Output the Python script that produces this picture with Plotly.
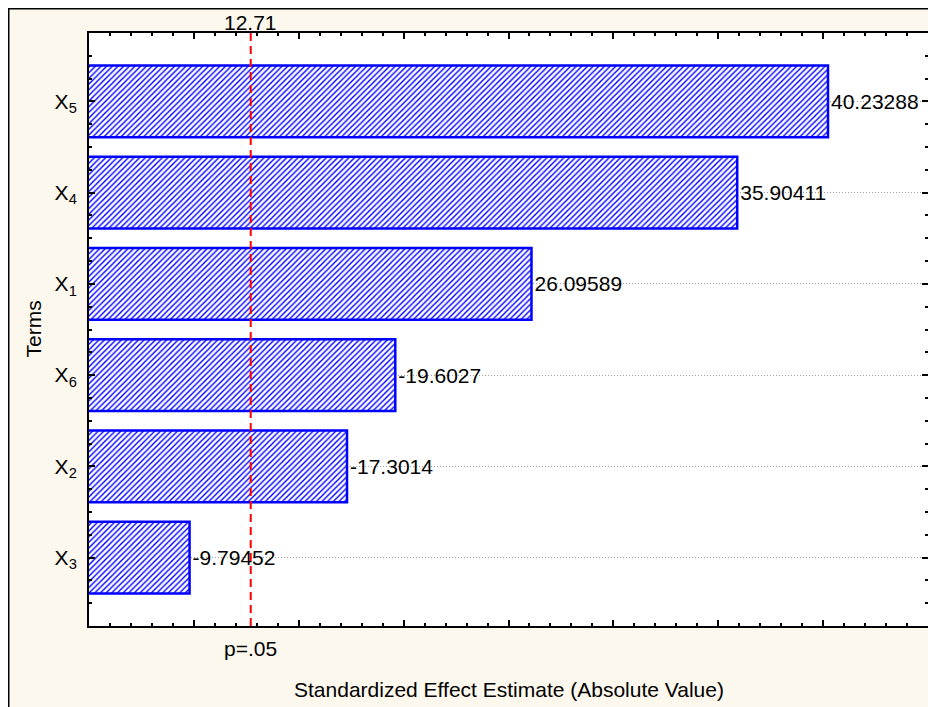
import plotly.graph_objects as go

# ---- data ----
terms = ["X<sub>5</sub>", "X<sub>4</sub>", "X<sub>1</sub>", "X<sub>6</sub>", "X<sub>2</sub>", "X<sub>3</sub>"]
effects = [40.23288, 35.90411, 26.09589, -19.6027, -17.3014, -9.79452]
p_crit = 12.71
x_title = "Standardized Effect Estimate (Absolute Value)"
y_title = "Terms"

n = len(terms)
ypos = [n - 1 - i for i in range(n)]
abs_eff = [abs(v) for v in effects]
labels = [str(v) for v in effects]

FONT = "Liberation Sans, Arial, sans-serif"
CREAM = "#FDF8EE"
BLUE = "#0000FF"
FS = 21

# The page body has an 8px margin, so figure px = page px - 8
OFF = 8
FW, FH = 936 - OFF, 707 - OFF
L, R, T, B = 89 - OFF, 928 - OFF, 33 - OFF, 626 - OFF
W, H = R - L, B - T


def px_x(px):  # page px -> paper
    return (px - OFF - L) / W


def px_y(py):  # page px -> paper
    return (B - (py - OFF)) / H


fig = go.Figure()
fig.add_trace(go.Bar(
    x=abs_eff, y=ypos, orientation="h", width=0.785,
    marker=dict(color=BLUE,
                line=dict(color=BLUE, width=2.5),
                pattern=dict(shape="/", fgcolor=BLUE, bgcolor="white",
                             size=4, solidity=0.35, fillmode="replace")),
    text=labels, textposition="outside", cliponaxis=False,
    textfont=dict(family=FONT, size=FS, color="black"),
    hoverinfo="skip", showlegend=False,
))

shapes = [
    # red critical-value line
    dict(type="line", xref="x", yref="paper", x0=p_crit, x1=p_crit, y0=0, y1=1,
         line=dict(color="#FF0000", width=2, dash="8px,5px"), layer="above"),
    # outer frame lines (left & top edges of the figure)
    dict(type="line", xref="paper", yref="paper", x0=px_x(8.5), x1=px_x(8.5),
         y0=-0.5, y1=px_y(7.5), line=dict(color="black", width=2), layer="below"),
    dict(type="line", xref="paper", yref="paper", x0=px_x(7.5), x1=1.3,
         y0=px_y(8.5), y1=px_y(8.5), line=dict(color="black", width=2), layer="below"),
]

annotations = [
    dict(text=f"{p_crit:.2f}", x=p_crit, xref="x", y=px_y(22.5), yref="paper",
         showarrow=False, xanchor="center", yanchor="middle",
         font=dict(family=FONT, size=FS, color="black")),
    dict(text="p=.05", x=p_crit, xref="x", y=px_y(648.5), yref="paper",
         showarrow=False, xanchor="center", yanchor="middle",
         font=dict(family=FONT, size=FS, color="black")),
    dict(text=x_title, x=0.5, xref="paper", y=px_y(689), yref="paper",
         showarrow=False, xanchor="center", yanchor="middle",
         font=dict(family=FONT, size=FS, color="black")),
    dict(text=y_title, x=px_x(33), xref="paper", y=0.5, yref="paper",
         showarrow=False, xanchor="center", yanchor="middle", textangle=-90,
         font=dict(family=FONT, size=FS, color="black")),
]

fig.update_layout(
    width=FW, height=FH,
    margin=dict(l=L, r=FW - R, t=T, b=FH - B, autoexpand=False),
    paper_bgcolor=CREAM, plot_bgcolor="white",
    font=dict(family=FONT, size=FS, color="black"),
    shapes=shapes, annotations=annotations,
    bargap=0.2,
    xaxis=dict(range=[5, 45], showline=True, linecolor="black", linewidth=2,
               mirror="ticks", ticks="inside", tickvals=list(range(10, 45, 5)),
               ticklen=6, tickwidth=1.5, tickcolor="black",
               showticklabels=False, showgrid=False, zeroline=False,
               minor=dict(ticks="inside", dtick=1, tick0=0, ticklen=3,
                          tickwidth=1.5, tickcolor="black", showgrid=False)),
    yaxis=dict(range=[-0.75, n - 0.25], showline=True, linecolor="black", linewidth=2,
               mirror="ticks", ticks="inside", tickvals=ypos, ticktext=terms,
               ticklen=6, tickwidth=1.5, tickcolor="black",
               tickfont=dict(family=FONT, size=FS, color="black"),
               ticklabelstandoff=6,
               showgrid=True, gridcolor="#A0A0A0", griddash="1px,2px", gridwidth=1,
               zeroline=False,
               minor=dict(ticks="inside", dtick=0.25, tick0=0, ticklen=3,
                          tickwidth=1.5, tickcolor="black", showgrid=False)),
)

fig.write_html("out.html")
